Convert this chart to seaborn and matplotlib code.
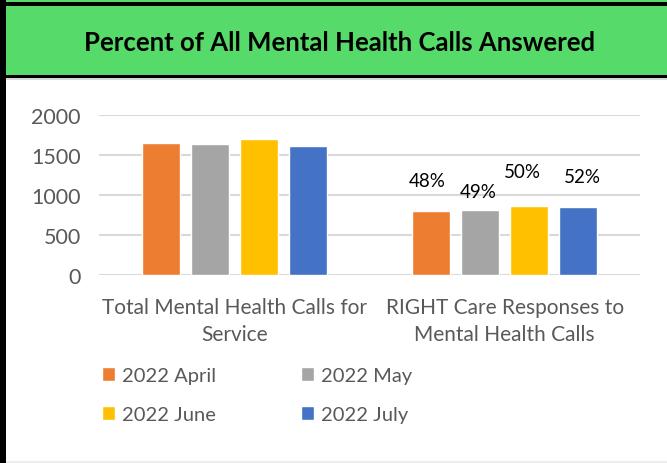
import pandas as pd
import matplotlib.pyplot as plt
import seaborn as sns
from matplotlib.patches import Rectangle

categories = ["Total Mental Health Calls for\nService", "RIGHT Care Responses to\nMental Health Calls"]
months = ["2022 April", "2022 May", "2022 June", "2022 July"]
total_calls = [1646, 1637, 1700, 1612]
right_care = [800, 808, 858, 846]
pct_labels = ["48%", "49%", "50%", "52%"]
colors = ["#ED7D31", "#A5A5A5", "#FFC000", "#4472C4"]

df = pd.DataFrame({
    "category": [categories[0]] * 4 + [categories[1]] * 4,
    "month": months * 2,
    "calls": total_calls + right_care,
})

sns.set_style("white")
plt.rcParams["font.family"] = ["Lato", "DejaVu Sans"]
grey_text = "#595959"

W, H = 667, 464
fig = plt.figure(figsize=(W / 100, H / 100), dpi=100)

# frame + green title band (pixel boxes converted to figure coords)
def px_rect(x0, y0, x1, y1, color):
    fig.patches.append(Rectangle((x0 / W, 1 - y1 / H), (x1 - x0) / W, (y1 - y0) / H,
                                 transform=fig.transFigure, color=color, zorder=0, lw=0))

px_rect(0, 0, W, 3, "#56DA69")
px_rect(0, 3, W, 7, "black")
px_rect(0, 7, W, 76, "#56DA69")
px_rect(0, 76, W, 79, "black")
px_rect(0, 79, W, 81, "#D9D9D9")
px_rect(0, 462, W, H, "#EDEDED")
px_rect(0, 0, 6, H, "black")

fig.text(340 / W, 1 - 43 / H, "Percent of All Mental Health Calls Answered",
         ha="center", va="center", fontsize=18.5, fontweight="bold", color="black")

ax = fig.add_axes([99 / W, 1 - 276 / H, 541 / W, 160 / H])
sns.barplot(data=df, x="category", y="calls", hue="month", hue_order=months,
            palette=colors, width=0.725, gap=0.22, saturation=1, ax=ax, legend=True)

ax.set_ylim(0, 2000)
ax.set_yticks([0, 500, 1000, 1500, 2000])
ax.yaxis.grid(True, color="#D9D9D9", linewidth=1.5)
ax.set_axisbelow(True)
ax.set_xlabel("")
ax.set_ylabel("")
sns.despine(ax=ax, left=True, bottom=True)
ax.tick_params(axis="both", length=0, labelcolor=grey_text)
ax.tick_params(axis="y", pad=13, labelsize=15.5)
ax.tick_params(axis="x", pad=16, labelsize=15)
for lbl in ax.get_xticklabels():
    lbl.set_linespacing(1.4)

# percent labels over the second group
offsets = [(-4, 30), (-2, 19), (-7, 35), (4, 31)]
for cont, txt, (dx, dy) in zip(ax.containers, pct_labels, offsets):
    bar = cont[1]
    ax.annotate(txt, (bar.get_x() + bar.get_width() / 2, bar.get_height()),
                xytext=(dx, dy), textcoords="offset pixels",
                ha="center", va="center", fontsize=13.5, color="black")

handles, labels = ax.get_legend_handles_labels()
ax.get_legend().remove()
order = [0, 2, 1, 3]
fig.legend([handles[i] for i in order], [labels[i] for i in order],
           loc="upper left", bbox_to_anchor=(102 / W, 1 - 368 / H), ncol=2,
           frameon=False, fontsize=14.5, labelcolor=grey_text, borderpad=0,
           borderaxespad=0,
           handlelength=0.65, handleheight=0.65, handletextpad=0.35,
           columnspacing=4.2, labelspacing=1.1)

fig.savefig("out.png", dpi=100)
